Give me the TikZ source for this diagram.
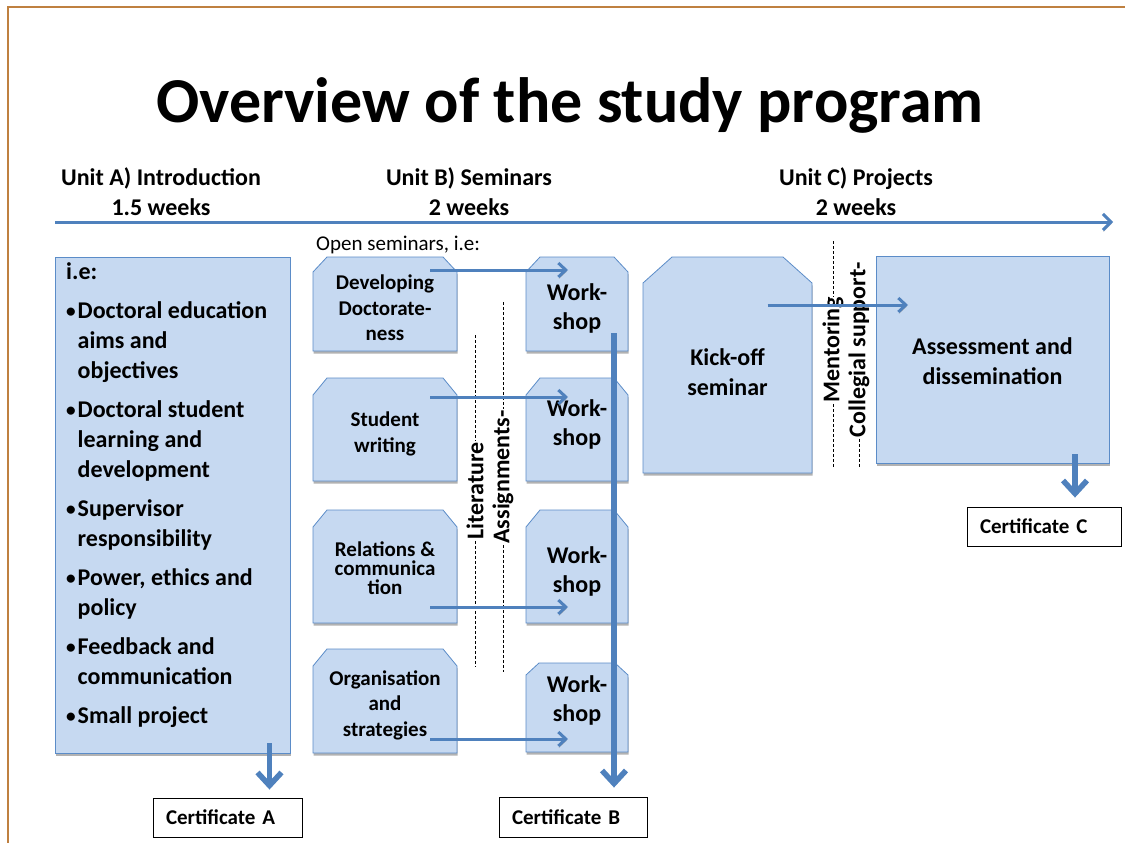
\documentclass[tikz,border=0pt]{standalone}
\usepackage{fontspec}
\setmainfont{Carlito}
\usetikzlibrary{arrows.meta,shadows,calc}
\definecolor{boxfill}{HTML}{C6D9F1}
\definecolor{boxline}{HTML}{5B8CC8}
\definecolor{arrowblue}{HTML}{4F81BD}
\definecolor{framecol}{HTML}{BF8040}
\newcommand{\mybul}{\makebox[11.5pt][l]{\raisebox{0.6pt}{\scalebox{0.8}{•}}}}
\newcommand{\myind}{\hspace*{11.5pt}}
\newcommand{\chamshape}[3]{%
  \path[boxpath] (#1.south west) -- ([yshift=-#3]#1.north west) -- ([xshift=#2]#1.north west)
    -- ([xshift=-#2]#1.north east) -- ([yshift=-#3]#1.north east) -- (#1.south east) -- cycle;}
\begin{document}
\begin{tikzpicture}[x=1pt,y=-1pt,
  fntA/.style={font=\fontsize{24}{30}\selectfont\bfseries},
  fntW/.style={font=\fontsize{24}{29}\selectfont\bfseries},
  fntS/.style={font=\fontsize{21}{25.5}\selectfont\bfseries},
  fntT/.style={font=\fontsize{21}{19}\selectfont\bfseries},
  boxpath/.style={draw=boxline, fill=boxfill, line width=0.8pt,
    drop shadow={shadow xshift=0.6pt, shadow yshift=-2.6pt, fill=black!55, opacity=0.55}},
  geom/.style={rectangle, inner sep=0pt, outer sep=0pt},
  rectbox/.style={geom, boxpath},
  txt/.style={align=center, inner sep=0pt},
  cert/.style={draw=black, line width=0.9pt, fill=white, font=\fontsize{21}{25}\selectfont\bfseries,
    align=left, inner xsep=13pt, inner ysep=0pt},
  rot/.style={rotate=90, fntA, inner sep=1pt},
  dashline/.style={draw=black, line width=0.8pt, dash pattern=on 3pt off 2pt},
  arrshadow/.style={preaction={draw=black!35, transform canvas={shift={(0.6pt,-1.6pt)}}}},
  thinarr/.style={draw=arrowblue, line width=3pt, -{Straight Barb[length=7.5pt,width=14pt]}, arrshadow},
  bigarr/.style={draw=arrowblue, line width=5.5pt, -{Straight Barb[length=13pt,width=24pt]}, arrshadow}
]
\useasboundingbox (0,0) rectangle (1125,843);
\fill[white] (0,0) rectangle (1125,843);
% frame
\draw[framecol, line width=1.6pt] (8,850) -- (8,7) -- (1130,7);

% title
\node[anchor=base, font=\fontsize{64}{70}\selectfont\bfseries, inner sep=0pt] (title) at (570,122) {Overview of the study program};

% unit labels
\node[fntA, txt] (ua) at (161,192) {Unit A) Introduction\\1.5 weeks};
\node[fntA, txt] (ub) at (469,192) {Unit B) Seminars\\2 weeks};
\node[fntA, txt] (uc) at (856,192) {Unit C) Projects\\2 weeks};

% timeline
\coordinate (tl1) at (55,222);
\coordinate (tl2) at (1113,222);
\draw[draw=arrowblue, line width=3pt, -{Straight Barb[length=8pt,width=16pt]}, arrshadow] (tl1) -- (tl2);

% Unit A box
\node[rectbox, minimum width=235pt, minimum height=496pt] (A) at (172.5,505) {};
\node[anchor=north west, inner sep=0pt, align=left, fntA] (Alist) at (66,262) {i.e:\\[9pt]
\mybul Doctoral education\\ \myind aims and\\ \myind objectives\\[9pt]
\mybul Doctoral student\\ \myind learning and\\ \myind development\\[9pt]
\mybul Supervisor\\ \myind responsibility\\[9pt]
\mybul Power, ethics and\\ \myind policy\\[9pt]
\mybul Feedback and\\ \myind communication\\[9pt]
\mybul Small project};

% open seminars
\node[anchor=base west, inner sep=0pt, font=\fontsize{21}{25}\selectfont] (open) at (316,250) {Open seminars, i.e:};

% seminar boxes (geometry)
\node[geom, minimum width=144pt, minimum height=94pt] (s1) at (385,304) {};
\node[geom, minimum width=144pt, minimum height=103pt] (s2) at (385,429.5) {};
\node[geom, minimum width=144pt, minimum height=113pt] (s3) at (385,566.5) {};
\node[geom, minimum width=144pt, minimum height=104pt] (s4) at (385,701) {};
% workshop boxes (geometry)
\node[geom, minimum width=102pt, minimum height=94pt] (w1) at (577,304) {};
\node[geom, minimum width=102pt, minimum height=103pt] (w2) at (577,429.5) {};
\node[geom, minimum width=102pt, minimum height=113pt] (w3) at (577,566.5) {};
\node[geom, minimum width=102pt, minimum height=89pt] (w4) at (577,707.5) {};
% kick-off (geometry)
\node[geom, minimum width=169pt, minimum height=216pt] (k) at (727.5,365) {};

\chamshape{s1}{14pt}{15pt}
\chamshape{s2}{14pt}{17pt}
\chamshape{s3}{14pt}{17pt}
\chamshape{s4}{14pt}{17pt}
\chamshape{w1}{14pt}{15pt}
\chamshape{w2}{14pt}{17pt}
\chamshape{w3}{14pt}{17pt}
\chamshape{w4}{13pt}{12pt}
\chamshape{k}{29pt}{26pt}

% assessment box
\node[rectbox, minimum width=233pt, minimum height=207pt] (as) at (992.5,359.5) {};

% box texts
\node[fntS, txt] (s1t) at ([shift={(0,4)}]s1.center) {Developing\\Doctorate-\\ness};
\node[fntS, txt] (s2t) at ([shift={(0,4.5)}]s2.center) {Student\\writing};
\node[fntT, txt] (s3t) at ([shift={(0,2)}]s3.center) {Relations \&\\communica\\tion};
\node[fntS, txt] (s4t) at ([shift={(0,4)}]s4.center) {Organisation\\and\\strategies};
\node[fntW, txt] (w1t) at ([shift={(0,4.5)}]w1.center) {Work-\\shop};
\node[fntW, txt] (w2t) at ([shift={(0,-5)}]w2.center) {Work-\\shop};
\node[fntW, txt] (w3t) at ([shift={(0,5)}]w3.center) {Work-\\shop};
\node[fntW, txt] (w4t) at ([shift={(0,-7)}]w4.center) {Work-\\shop};
\node[fntA, txt] (kt) at ([shift={(0,7)}]k.center) {Kick-off\\seminar};
\node[fntA, txt] (ast) at ([shift={(0,1.5)}]as.center) {Assessment and\\dissemination};

% certificates
\node[cert, text width=123pt, minimum height=39pt] (ca) at (227.5,817.5) {Certificate A};
\node[cert, text width=122pt, minimum height=40pt] (cb) at (573,817) {Certificate B};
\node[cert, text width=128pt, minimum height=39pt] (cc) at (1044,526.5) {Certificate C};

% dashed lines with rotated labels
\coordinate (litT) at (475,335);
\coordinate (litB) at (475,667);
\node[rot] (lit) at (475,491) {Literature};
\draw[dashline] (litT) -- (lit.east);
\draw[dashline] (lit.west) -- (litB);

\coordinate (asgT) at (503,302);
\coordinate (asgB) at (503,672);
\node[rot] (asg) at (503,477) {Assignments-};
\draw[dashline] (asgT) -- (asg.east);
\draw[dashline] (asg.west) -- (asgB);

\coordinate (menT) at (833,241);
\coordinate (menB) at (833,468);
\node[rot] (men) at (833,350) {Mentoring};
\draw[dashline] (menT) -- (men.east);
\draw[dashline] (men.west) -- (menB);

\coordinate (colB) at (859,468);
\node[rot] (col) at (859,350) {Collegial support-};
\draw[dashline] (col.west) -- (colB);

% seminar -> workshop arrows
\draw[thinarr] ([shift={(45,13)}]s1.north) -- ([shift={(-9,13)}]w1.north);
\draw[thinarr] ([shift={(45,19)}]s2.north) -- ([shift={(-9,19)}]w2.north);
\draw[thinarr] ([shift={(45,-16)}]s3.south) -- ([shift={(-9,-16)}]w3.south);
\draw[thinarr] ([shift={(45,-14)}]s4.south) -- ([shift={(-9,-13)}]w4.south);

% kick-off -> assessment
\draw[thinarr] ([shift={(40,48)}]k.north) -- ([shift={(32,49)}]as.north west);

% certificate arrows
\draw[bigarr, shorten >=9pt] ([shift={(37,-18)}]w1.south) coordinate (bs) -- (bs |- cb.north);
\draw[bigarr, shorten >=8pt] ([shift={(97,-10)}]A.south) coordinate (abs) -- (abs |- ca.north);
\draw[bigarr, shorten >=9pt] ([shift={(82.5,-9)}]as.south) coordinate (cbs) -- (cbs |- cc.north);
\end{tikzpicture}
\end{document}
